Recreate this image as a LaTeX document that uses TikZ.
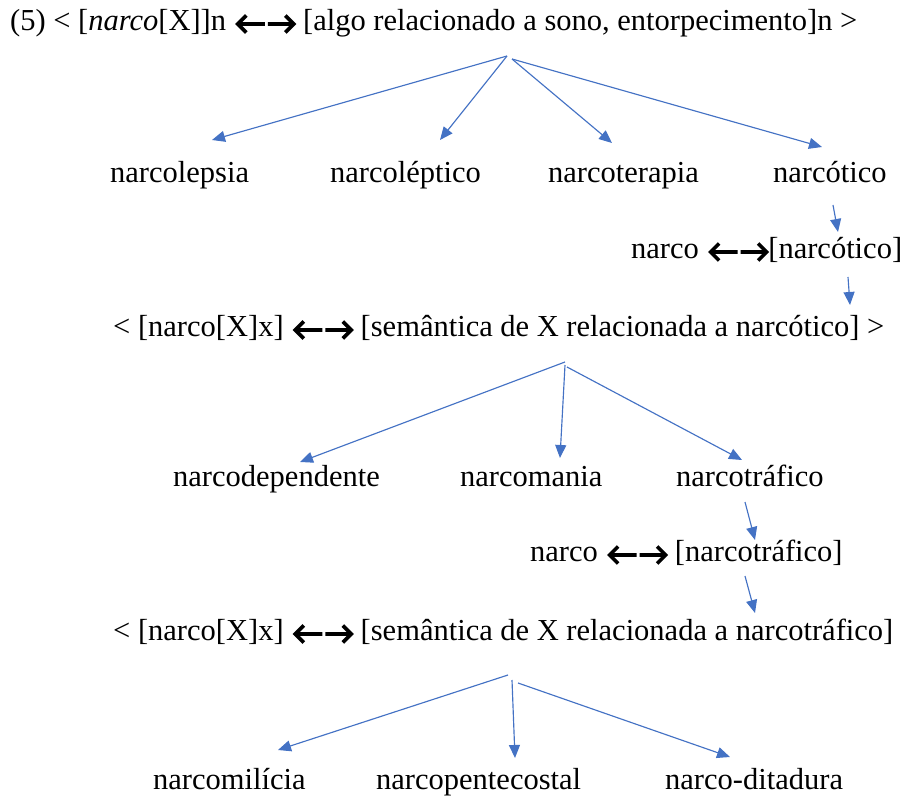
\documentclass[tikz,border=0pt]{standalone}
\usepackage{fontspec}
\setmainfont{Liberation Serif}
\usetikzlibrary{arrows.meta}
\definecolor{azul}{HTML}{4472C4}
\newcommand{\dupla}{\tikz[x=1pt,y=1pt,baseline=0pt,line width=3.6pt,miter limit=4]{%
  \path (-3,0) (58,0);
  \draw (1,7) -- (28,7) (9.5,15.5) -- (1,7) -- (9.5,-1.5);
  \draw (31,7) -- (57,7) (48.5,15.5) -- (57,7) -- (48.5,-1.5);}}

\begin{document}
\begin{tikzpicture}[x=1pt,y=-1pt,font=\fontsize{30.5}{36}\selectfont,
  txt/.style={anchor=base west,inner sep=0pt},
  seta/.style={azul,line width=1.15pt,-{Triangle[length=13pt,width=11pt]}}]
\useasboundingbox (0,0) rectangle (906,799);
% primeiro esquema
\node[txt] (l1) at (10,31) {(5) < [\textit{narco}[X]]n \dupla{} [algo relacionado a sono, entorpecimento]n >};
\node[txt] (lep) at (110,183) {narcolepsia};
\node[txt] (lept) at (330,183) {narcoléptico};
\node[txt] (ter) at (548,183) {narcoterapia};
\node[txt] (cot) at (773,183) {narcótico};
\coordinate (f1) at (507,56);
\coordinate (f1r) at (512,59);
\draw[seta] (f1) -- ([xshift=102pt,yshift=43pt]lep.base west);
\draw[seta] (f1) -- ([xshift=110pt,yshift=43pt]lept.base west);
\draw[seta] (f1r) -- ([xshift=64pt,yshift=40pt]ter.base west);
\draw[seta] (f1r) -- ([xshift=49pt,yshift=36pt]cot.base west);
% narco <-> narcotico
\node[txt] (l3) at (631,259) {narco \dupla[narcótico]};
\draw[seta] ([xshift=60pt,yshift=-22pt]cot.base west) -- ([xshift=207pt,yshift=27pt]l3.base west);
\node[txt] (l4) at (113,337) {< [narco[X]x] \dupla{} [semântica de X relacionada a narcótico] >};
\draw[seta] ([xshift=217pt,yshift=-18pt]l3.base west) -- ([xshift=737pt,yshift=32pt]l4.base west);
% segundo esquema
\node[txt] (dep) at (173,487) {narcodependente};
\node[txt] (man) at (460,487) {narcomania};
\node[txt] (tra) at (676,487) {narcotráfico};
\coordinate (f2) at (565,362);
\draw[seta] (f2) -- ([xshift=127pt,yshift=25pt]dep.base west);
\draw[seta] ([yshift=-3pt]f2) -- ([xshift=100pt,yshift=29pt]man.base west);
\draw[seta] ([xshift=2pt,yshift=-5pt]f2) -- ([xshift=66pt,yshift=27pt]tra.base west);
\node[txt] (l6) at (530,562) {narco \dupla{} [narcotráfico]};
\draw[seta] ([xshift=69pt,yshift=-15pt]tra.base west) -- ([xshift=225pt,yshift=22pt]l6.base west);
\node[txt] (l7) at (113,641) {< [narco[X]x] \dupla{} [semântica de X relacionada a narcotráfico]};
\draw[seta] ([xshift=215pt,yshift=-14pt]l6.base west) -- ([xshift=642pt,yshift=28pt]l7.base west);
% terceiro esquema
\node[txt] (mil) at (153,789) {narcomilícia};
\node[txt] (pen) at (376,789) {narcopentecostal};
\node[txt] (dit) at (665,789) {narco-ditadura};
\coordinate (f3) at (508,675);
\draw[seta] (f3) -- ([xshift=125pt,yshift=39pt]mil.base west);
\draw[seta] ([xshift=4pt,yshift=-5pt]f3) -- ([xshift=139pt,yshift=31pt]pen.base west);
\draw[seta] ([xshift=10pt,yshift=-8pt]f3) -- ([xshift=65pt,yshift=32pt]dit.base west);
\end{tikzpicture}
\end{document}
